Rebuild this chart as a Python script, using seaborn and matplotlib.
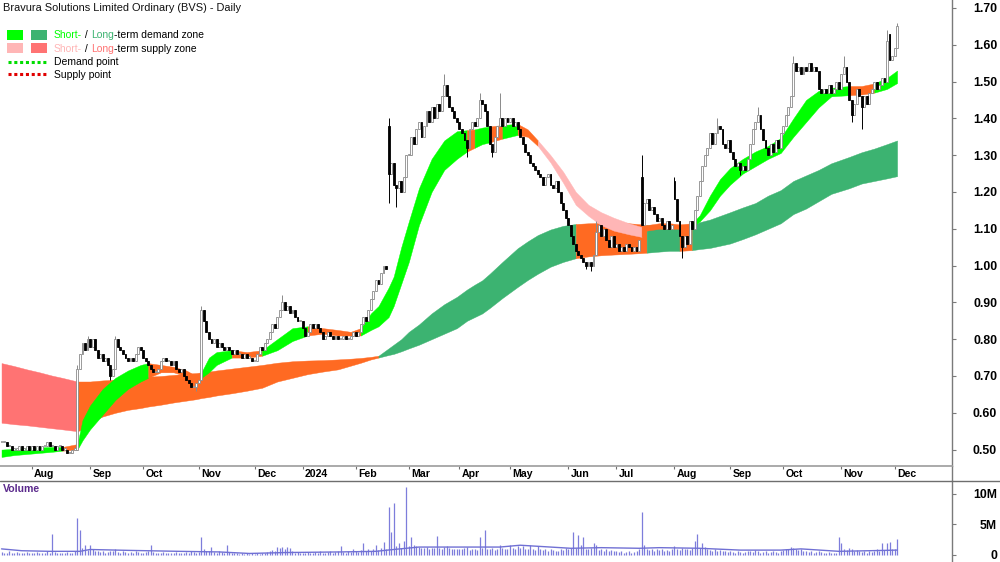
import numpy as np
import pandas as pd
import matplotlib
matplotlib.use("Agg")
import matplotlib.pyplot as plt
from matplotlib.patches import Rectangle
from matplotlib.lines import Line2D
import seaborn as sns

sns.set_theme(style="white")
plt.rcParams["font.family"] = ["Liberation Sans", "DejaVu Sans"]

TITLE = "Bravura Solutions Limited Ordinary (BVS) - Daily"

# daily closes (A$), one row per month, mid Jul-2023 .. early Dec-2024
close = [
    .52, .52, .51, .51, .50, .50, .50, .51, .50, .50, .51, .50,                                  # Jul 23
    .51, .50, .51, .50, .51, .51, .52, .51, .51, .50, .51, .51, .50, .50, .49, .49, .50, .50,
    .72, .76, .79, .77, .80,                                                                      # Aug 23
    .78, .80, .77, .75, .76, .74, .75, .73, .70, .72, .80, .78, .77, .76, .75, .74, .75, .74,
    .76, .78, .77,                                                                                # Sep 23
    .75, .74, .73, .72, .71, .71, .72, .74, .75, .74, .74, .73, .74, .72, .71, .72, .70, .69,
    .68, .67, .67, .68,                                                                           # Oct 23
    .69, .88, .85, .82, .80, .79, .80, .78, .79, .78, .77, .78, .77, .76, .77, .76, .76, .75,
    .76, .75, .75, .74,                                                                           # Nov 23
    .74, .76, .78, .77, .79, .80, .82, .84, .83, .86, .88, .90, .88, .89, .87, .88, .86, .85,
    .85,                                                                                          # Dec 23
    .83, .81, .82, .84, .83, .84, .83, .82, .80, .81, .82, .81, .80, .81, .80, .80, .81, .80,
    .80, .81, .82,                                                                                # Jan 24
    .81, .82, .84, .86, .85, .88, .91, .93, .96, .95, .98, 1.00, .99, 1.25, 1.28, 1.22, 1.21,
    1.23, 1.20, 1.24, 1.30,                                                                       # Feb 24
    1.30, 1.35, 1.33, 1.37, 1.39, 1.35, 1.38, 1.42, 1.39, 1.43, 1.40, 1.44, 1.42, 1.46, 1.49,
    1.46, 1.43, 1.42, 1.40, 1.39,                                                                 # Mar 24
    1.37, 1.36, 1.34, 1.32, 1.37, 1.39, 1.38, 1.40, 1.45, 1.44, 1.42, 1.38, 1.33, 1.31, 1.35,
    1.38, 1.40, 1.38, 1.40, 1.39,                                                                 # Apr 24
    1.40, 1.38, 1.39, 1.37, 1.35, 1.33, 1.31, 1.30, 1.28, 1.27, 1.26, 1.25, 1.24, 1.22, 1.24,
    1.25, 1.22, 1.21, 1.23, 1.20, 1.17, 1.15, 1.13,                                               # May 24
    1.11, 1.08, 1.06, 1.04, 1.03, 1.02, 1.01, 1.00, 1.01, 1.00, 1.03, 1.09, 1.11, 1.08, 1.10,
    1.07, 1.05, 1.08, 1.05,                                                                       # Jun 24
    1.06, 1.04, 1.05, 1.04, 1.06, 1.05, 1.04, 1.05, 1.04, 1.07, 1.11, 1.17, 1.18, 1.15, 1.16,
    1.14, 1.12, 1.13, 1.11, 1.10, 1.12, 1.10, 1.11,                                               # Jul 24
    1.18, 1.12, 1.08, 1.05, 1.08, 1.06, 1.12, 1.10, 1.15, 1.19, 1.23, 1.27, 1.30, 1.32, 1.36,
    1.33, 1.36, 1.38, 1.37, 1.33, 1.32, 1.34,                                                     # Aug 24
    1.31, 1.29, 1.27, 1.28, 1.26, 1.27, 1.26, 1.29, 1.33, 1.37, 1.39, 1.41, 1.37, 1.34, 1.32,
    1.30, 1.33, 1.31, 1.34, 1.32, 1.36,                                                           # Sep 24
    1.38, 1.41, 1.43, 1.46, 1.55, 1.53, 1.54, 1.52, 1.54, 1.53, 1.55, 1.53, 1.54, 1.53, 1.48,
    1.47, 1.48, 1.47, 1.49, 1.47, 1.48, 1.50, 1.48,                                               # Oct 24
    1.52, 1.54, 1.50, 1.45, 1.41, 1.44, 1.48, 1.46, 1.43, 1.46, 1.44, 1.47, 1.48, 1.50, 1.48,
    1.49, 1.51, 1.50, 1.61, 1.56, 1.57,                                                           # Nov 24
    1.59, 1.65,                                                                                   # Dec 24
]
# gap opens, and the wicks that stand out
open_gap = {153: 1.38, 253: 1.24, 266: 1.23, 351: 1.63}
high_mark = {30: .73, 34: .81, 45: .81, 79: .89, 111: .92, 153: 1.40, 175: 1.52, 189: 1.47,
             197: 1.47, 235: 1.12, 253: 1.30, 266: 1.24, 283: 1.40, 299: 1.43, 313: 1.57,
             333: 1.57, 350: 1.64, 354: 1.66}
low_mark = {43: .69, 77: .66, 153: 1.17, 156: 1.16, 184: 1.295, 194: 1.295, 231: .99,
            233: .985, 269: 1.02, 292: 1.245, 336: 1.39, 340: 1.37}

# daily volume (millions of shares), same rows as close
volume = [
    .5, .4, .3, .6, .4, .3, .5, .4, .3, .4, .5, .3,
    .4, .3, .5, .4, .3, .4, .6, .4, 3.5, .5, .4, .3, .4, .3, .5, .4, .3, .6, 6.0, 4.1, 1.2, 1.6, .8,
    1.6, .9, .7, .6, .5, .6, .4, .5, .7, .6, .9, .5, .4, .6, .5, .4, .5, .4, .6, .5, .4,
    .4, .5, .6, 1.6, .5, .4, .3, .4, .5, .3, .4, .3, .4, .5, .3, .4, .3, .5, .4, .6, .5, .4,
    .5, 2.9, 1.0, .7, .6, 1.3, .5, .4, .6, .5, .4, 1.7, .5, .4, .3, .3, .2, .3, .2, .3, .2, .3,
    .2, .3, .2, .3, .4, .5, .6, .8, .7, 1.3, 1.1, 1.3, .9, 1.3, 1.2, .6, .4, .5, .3,
    .4, .3, .5, .4, .3, .5, .4, .6, .3, .4, .5, .6, .4, .5, .7, 1.5, .5, .4, .6, .5, 1.0,
    .6, .5, .8, 1.9, .7, 1.0, .6, .9, 1.6, .8, 1.2, 2.2, 1.0, 7.8, 3.8, 8.6, 1.5, 1.9, 1.2, 2.3, 11.1,
    1.5, 3.0, 1.6, 1.4, 1.3, 1.2, 1.1, 1.3, 1.0, 1.2, 1.1, 3.1, 1.2, 1.0, 1.3, 1.4, 1.1, 1.0, .9, 1.0,
    1.0, .9, 1.1, 1.3, .8, .9, 1.0, .8, 3.0, 1.2, 4.1, 1.0, .9, 1.1, .8, 1.0, 1.7, 1.2, .9, 1.0,
    1.6, 1.2, 1.0, 1.4, 1.1, 1.5, 1.0, .9, 1.6, 1.0, .8, 1.5, .9, .8, 1.0, .7, .9, .8, .6, .7, .9, .8, 1.2,
    1.0, 1.2, 3.8, 1.1, 3.3, 1.7, 2.9, 1.0, .9, 1.1, 1.9, 1.6, .8, 1.0, .7, .9, .6, .8, .7,
    .6, .5, .7, .4, .5, .6, .4, .5, .6, .9, 7.0, 1.6, 1.0, .8, .9, .7, 1.0, .8, .9, .6, .8, .7, .9,
    1.4, 1.0, .8, 1.2, .9, 1.0, .8, 1.1, 2.3, 3.5, 1.2, 1.9, 1.3, .9, .8, .7, .9, .6, .8, .7, .6, .5,
    .6, .5, .4, .6, .5, .4, .5, .7, .6, .5, .8, .6, .4, .5, .6, .4, .5, .6, .5, .4, .7,
    .8, .9, 1.0, 1.3, 1.2, 1.0, .8, .9, .7, .6, .5, .6, .4, .5, .6, .5, .4, .3, .5, .4, .3, .4, 3.0,
    1.9, 1.0, .8, 1.2, .9, .7, .8, .6, .5, .7, .4, .6, .5, .6, 1.0, .7, 1.9, .8, 2.0, 2.2, .9,
    1.0, 2.6,
]
vol_ma_day = [0, 8, 19, 31, 35, 51, 70, 86, 98, 112, 134, 148, 155, 160, 165, 197, 205, 217,
              225, 237, 252, 260, 276, 292, 308, 316, 331, 343, 354]
vol_ma = [1.0, .7, .6, .6, .9, .75, .6, .5, .25, .4, .5, .6, .9, 1.1, 1.3, 1.3, 1.6, 1.3,
          1.1, 1.2, 1.1, 1.2, 1.1, .8, .8, 1.0, .6, .7, .8]

# demand / supply zones read at these trading days
band_day = [0, 5, 10, 15, 20, 24, 30, 32, 35, 40,
            45, 50, 55, 58, 63, 68, 73, 77, 79, 82,
            85, 91, 97, 103, 109, 115, 121, 127, 133, 138,
            142, 146, 149, 153, 155, 158, 161, 165, 170, 175,
            180, 184, 187, 190, 193, 198, 204, 208, 212, 217,
            222, 227, 232, 237, 242, 248, 253, 255, 260, 264,
            268, 273, 276, 280, 284, 288, 293, 298, 303, 308,
            313, 318, 323, 328, 335, 340, 345, 350, 354]
short_hi = [.500, .502, .504, .506, .507, .507, .515, .580, .620, .665,
            .695, .715, .730, .735, .730, .725, .715, .700, .710, .750,
            .765, .770, .765, .770, .800, .830, .835, .830, .825, .820,
            .830, .870, .890, .940, .970, 1.050, 1.120, 1.210, 1.290, 1.340,
            1.365, 1.368, 1.370, 1.375, 1.378, 1.382, 1.385, 1.370, 1.340, 1.300,
            1.255, 1.200, 1.165, 1.145, 1.130, 1.115, 1.105, 1.110, 1.115, 1.115,
            1.112, 1.115, 1.137, 1.190, 1.235, 1.265, 1.290, 1.310, 1.325, 1.347,
            1.400, 1.450, 1.475, 1.483, 1.488, 1.488, 1.495, 1.510, 1.530]
short_lo = [.480, .485, .488, .491, .494, .497, .500, .525, .555, .595,
            .635, .665, .685, .695, .710, .710, .700, .690, .695, .710,
            .730, .750, .750, .755, .770, .795, .810, .815, .810, .810,
            .810, .825, .835, .860, .890, .950, 1.010, 1.110, 1.200, 1.260,
            1.290, 1.310, 1.320, 1.330, 1.335, 1.345, 1.355, 1.350, 1.325, 1.280,
            1.225, 1.165, 1.135, 1.110, 1.095, 1.085, 1.078, 1.095, 1.100, 1.100,
            1.100, 1.105, 1.120, 1.150, 1.190, 1.220, 1.250, 1.270, 1.290, 1.306,
            1.350, 1.390, 1.430, 1.460, 1.463, 1.465, 1.470, 1.480, 1.496]
long_hi = [.735, .727, .718, .710, .701, .695, .685, .685, .685, .688,
           .690, .693, .696, .698, .700, .703, .706, .708, .710, .712,
           .715, .720, .725, .730, .736, .740, .742, .743, .745, .747,
           .749, .752, .755, .775, .785, .800, .820, .840, .870, .895,
           .915, .935, .948, .960, .978, 1.010, 1.047, 1.066, 1.083, 1.098,
           1.108, 1.113, 1.115, 1.116, 1.117, 1.115, 1.112, 1.110, 1.108, 1.107,
           1.108, 1.110, 1.118, 1.125, 1.135, 1.145, 1.158, 1.170, 1.190, 1.205,
           1.230, 1.245, 1.260, 1.278, 1.295, 1.308, 1.318, 1.330, 1.340]
long_lo = [.573, .569, .566, .562, .558, .555, .550, .555, .575, .590,
           .600, .608, .613, .617, .622, .628, .633, .637, .640, .643,
           .647, .653, .660, .668, .685, .695, .705, .712, .718, .728,
           .736, .745, .750, .757, .760, .767, .775, .785, .800, .815,
           .830, .850, .860, .870, .885, .912, .942, .961, .978, .997,
           1.010, 1.020, 1.025, 1.028, 1.030, 1.032, 1.034, 1.035, 1.038, 1.040,
           1.040, 1.042, 1.045, 1.048, 1.054, 1.060, 1.072, 1.085, 1.100, 1.115,
           1.140, 1.155, 1.175, 1.195, 1.210, 1.223, 1.230, 1.237, 1.243]
# zone state from each reading to the next: D demand, S supply, N neutral
short_zone = ("DDDDDNDDDD" "DDDNNNNNDD" "DNNDDDNNNN" "DDDDDDDDDD" "DNDDNDNNSS"
              "SSSSSSNNNN" "NDDDDDDDDD" "DDDDNNDDD")
long_zone = ("SSSSSSNNNN" "NNNNNNNNNN" "NNNNNNNNNN" "NNDDDDDDDD" "DDDDDDDDDD"
             "DNNNNNNDDD" "NDDDDDDDDD" "DDDDDDDDD")

month_day = [12, 35, 56, 78, 100, 119, 140, 161, 181, 201, 224, 243, 266, 288, 309, 332, 353]
month_lbl = ["Aug", "Sep", "Oct", "Nov", "Dec", "2024", "Feb", "Mar", "Apr", "May", "Jun",
             "Jul", "Aug", "Sep", "Oct", "Nov", "Dec"]
price_ticks = [0.5, 0.6, 0.7, 0.8, 0.9, 1.0, 1.1, 1.2, 1.3, 1.4, 1.5, 1.6, 1.7]
vol_ticks = [0, 5, 10]
vol_lbl = ["0", "5M", "10M"]

SHORT_COL = {"D": "#00FF00", "S": "#FFB6B6", "N": "#FF6A22"}
LONG_COL = {"D": "#3CB371", "S": "#FF7373", "N": "#FF6A22"}
VOL_COL = "#7D7DDB"
AXIS_COL = "#7a7a7a"

# ---- candles
c = np.array(close)
o = np.r_[c[0], c[:-1]]
for k, v in open_gap.items():
    o[k] = v
hi = np.maximum(o, c)
lo = np.minimum(o, c)
for k, v in high_mark.items():
    hi[k] = max(hi[k], v)
for k, v in low_mark.items():
    lo[k] = min(lo[k], v)
bars = pd.DataFrame(dict(day=np.arange(len(c)), o=o, h=hi, l=lo, c=c, vol=volume))
bars["up"] = bars.c >= bars.o
bars["base"] = np.minimum(bars.o, bars.c)
bars["body"] = np.maximum((bars.c - bars.o).abs(), 0.003)

W, H = 1000, 562
fig = plt.figure(figsize=(W / 100, H / 100), dpi=100)


def box(x0, y0, x1, y1):
    return [x0 / W, 1 - y1 / H, (x1 - x0) / W, (y1 - y0) / H]


def fpos(x, y):
    return x / W, 1 - y / H


XLIM = (-0.6, 375.7)
ax_p = fig.add_axes(box(0, 0, 952, 466))
ax_d = fig.add_axes(box(0, 466, 952, 480))
ax_v = fig.add_axes(box(0, 481, 952, 562))
for ax in (ax_p, ax_d, ax_v):
    ax.set_xlim(*XLIM)
    ax.set_facecolor("white")
    for s in ("left", "top", "bottom"):
        ax.spines[s].set_visible(False)
    ax.spines["right"].set_color(AXIS_COL)
    ax.spines["right"].set_linewidth(1.0)
    ax.set_xticks([])


def fill_zone(ax, xs, top, bot, zones, palette, z):
    xs, top, bot = np.asarray(xs), np.asarray(top), np.asarray(bot)
    start = 0
    for k in range(1, len(xs)):
        if k == len(xs) - 1 or zones[k] != zones[start]:
            sl = slice(start, k + 1)
            col = palette[zones[start]]
            ax.fill_between(xs[sl], bot[sl], top[sl], color=col, ec=col, lw=0.3, zorder=z)
            start = k


fill_zone(ax_p, band_day, long_hi, long_lo, long_zone, LONG_COL, 1)
fill_zone(ax_p, band_day, short_hi, short_lo, short_zone, SHORT_COL, 2)

up, dn = bars[bars.up], bars[~bars.up]
ax_p.vlines(up.day, up.l, up.h, color="#8a8a8a", lw=0.7, zorder=3)
ax_p.vlines(dn.day, dn.l, dn.h, color="black", lw=0.7, zorder=3)
ax_p.bar(up.day, up.body, bottom=up.base, width=0.75, color="white", ec="#8a8a8a", lw=0.6, zorder=4)
ax_p.bar(dn.day, dn.body, bottom=dn.base, width=0.75, color="black", ec="black", lw=0.6, zorder=4)

ax_p.set_ylim(0.4554, 1.7217)
ax_p.yaxis.tick_right()
ax_p.set_yticks(price_ticks)
ax_p.set_yticklabels([f"{t:.2f}" for t in price_ticks], fontsize=8.8, fontweight="bold", ha="right")
ax_p.tick_params(axis="y", length=3, width=0.8, color=AXIS_COL, pad=29.4, labelcolor="black")
ax_p.set_ylabel("")

# ---- date strip
ax_d.set_ylim(0, 1)
ax_d.set_yticks([])
ax_d.spines["top"].set_visible(True)
ax_d.spines["top"].set_color("#a0a0a0")
for d, lbl in zip(month_day, month_lbl):
    ax_d.plot([d, d], [0.78, 1.0], color="#707070", lw=0.8, solid_capstyle="butt")
    ax_d.text(d + 0.9, 0.42, lbl, transform=ax_d.get_xaxis_transform(), fontsize=7.6,
              fontweight="bold", ha="left", va="center", color="black")
fig.add_artist(Line2D([0, 1], [1 - 480.5 / H] * 2, color="#6e6e6e", lw=1.0))

# ---- volume
ax_v.vlines(bars.day, 0, bars.vol, color=VOL_COL, lw=0.9)
sns.lineplot(x=vol_ma_day, y=vol_ma, ax=ax_v, color="#7070D4", lw=1.0)
ax_v.set_ylim(-1.15, 12.13)
ax_v.yaxis.tick_right()
ax_v.set_yticks(vol_ticks)
ax_v.set_yticklabels(vol_lbl, fontsize=8.8, fontweight="bold", ha="right")
ax_v.tick_params(axis="y", length=3, width=0.8, color=AXIS_COL, pad=29.4, labelcolor="black")
ax_v.set_ylabel("")
fig.text(*fpos(3, 489), "Volume", fontsize=7.6, fontweight="bold", color="#5B2A8C",
         ha="left", va="center")

# ---- title and legend
fig.text(*fpos(3, 8), TITLE, fontsize=7.9, ha="left", va="center", color="#111111")

swatches = [(7, 30, SHORT_COL["D"]), (31, 30, LONG_COL["D"]),
            (7, 43, SHORT_COL["S"]), (31, 43, LONG_COL["S"])]
for x0, y0, col in swatches:
    fx, fy = fpos(x0, y0 + 10)
    fig.add_artist(Rectangle((fx, fy), 16 / W, 10 / H, transform=fig.transFigure,
                             facecolor=col, edgecolor="none"))
for y0, col in ((62, "#00DD00"), (74, "#E00000")):
    fig.add_artist(Line2D([8 / W, 47 / W], [1 - y0 / H] * 2, color=col, lw=2.2,
                          linestyle=(0, (1, 0.9))))

renderer = fig.canvas.get_renderer()


def rich_text(x, y, parts, size=7.5):
    for s, col in parts:
        t = fig.text(*fpos(x, y), s, fontsize=size, color=col, ha="left", va="center")
        x += t.get_window_extent(renderer=renderer).width


rich_text(54, 35.5, [("Short-", SHORT_COL["D"]), (" / ", "black"), ("Long", LONG_COL["D"]),
                     ("-term demand zone", "black")])
rich_text(54, 48.5, [("Short-", SHORT_COL["S"]), (" / ", "black"), ("Long", LONG_COL["S"]),
                     ("-term supply zone", "black")])
rich_text(54, 62, [("Demand point", "black")])
rich_text(54, 74.5, [("Supply point", "black")])

fig.savefig("out.png", dpi=100)
